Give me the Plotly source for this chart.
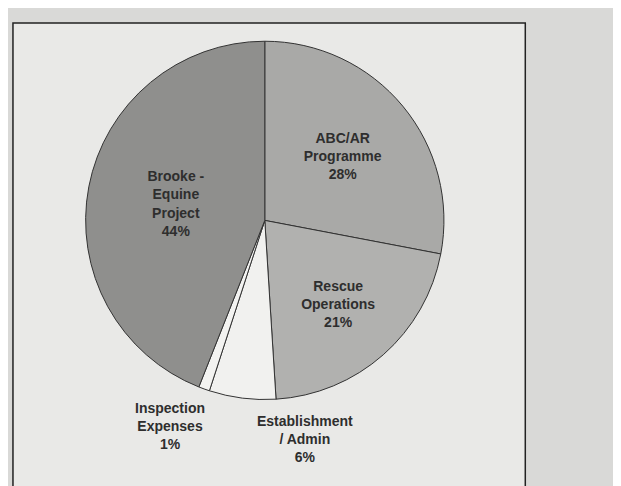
import plotly.graph_objects as go

labels = ["ABC/AR<br>Programme", "Rescue<br>Operations", "Establishment<br>/ Admin",
          "Inspection<br>Expenses", "Brooke -<br>Equine<br>Project"]
values = [28, 21, 6, 1, 44]
colors = ["#a9a9a7", "#b1b1af", "#f1f1ef", "#f3f3f1", "#8f8f8d"]
text_positions = ["inside", "inside", "none", "none", "inside"]

# paper positions for the labels of the thin slices, placed below the pie
outside_label_pos = {2: (0.478, 0.113), 3: (0.261, 0.14)}

font = dict(family="Liberation Sans, Arial", size=14, color="#2e2e2e")

fig = go.Figure(go.Pie(
    labels=labels,
    values=values,
    sort=False,
    direction="clockwise",
    rotation=0,
    marker=dict(colors=colors, line=dict(color="#333333", width=1)),
    texttemplate="<b>%{label}<br>%{percent:.0%}</b>",
    textposition=text_positions,
    insidetextorientation="horizontal",
    textfont=font,
    showlegend=False,
    hoverinfo="label+percent",
    domain=dict(x=[0.125, 0.702], y=[0.186, 0.94]),
))

total = sum(values)
for i, (px, py) in outside_label_pos.items():
    fig.add_annotation(
        xref="paper", yref="paper", x=px, y=py,
        text="<b>%s<br>%d%%</b>" % (labels[i], round(100 * values[i] / total)),
        showarrow=False, font=font, align="center",
        xanchor="center", yanchor="middle",
    )

fig.add_shape(type="rect", xref="paper", yref="paper",
              x0=0.008, x1=0.833, y0=0.004, y1=0.969,
              fillcolor="#e9e9e7", line=dict(color="#222222", width=1.5),
              layer="below")

fig.update_layout(
    width=621, height=486,
    margin=dict(l=0, r=0, t=0, b=0),
    paper_bgcolor="#d9d9d7",
    plot_bgcolor="#d9d9d7",
)

fig.write_html("out.html")
